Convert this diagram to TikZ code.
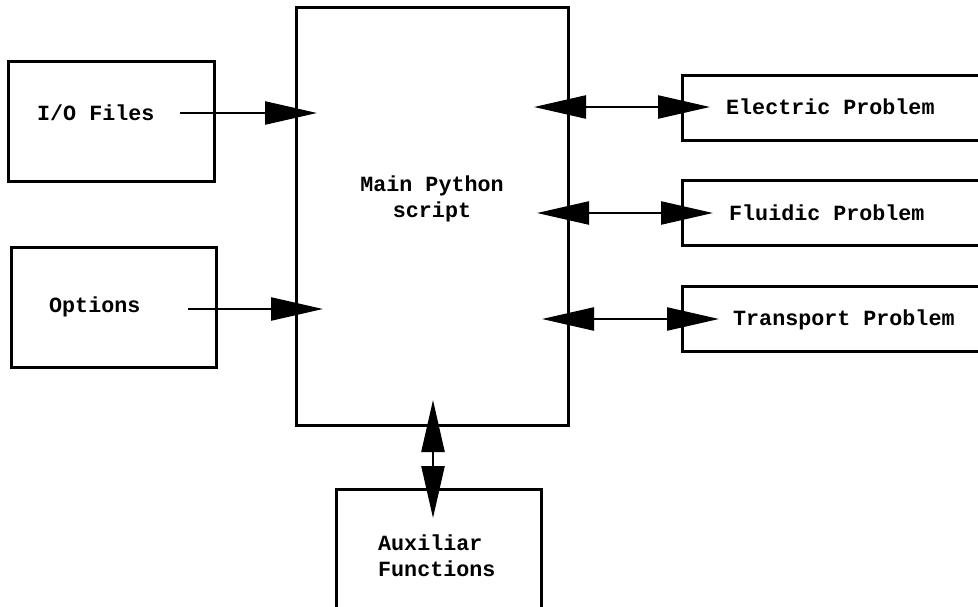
\documentclass[tikz,border=0pt]{standalone}
\usepackage{fontspec}
\setmonofont{Liberation Mono}
\usetikzlibrary{arrows.meta}
\begin{document}
\begin{tikzpicture}[x=1pt,y=-1pt,
  box/.style={draw=black, line width=3pt, rectangle, inner sep=0pt},
  lbl/.style={font=\ttfamily\bfseries\fontsize{21.7}{26}\selectfont, inner sep=0pt, text=black},
  arr/.style={line width=2.4pt, -{Triangle[length=52pt,width=23pt]}},
  darr/.style={line width=2.4pt, {Triangle[length=52pt,width=23pt]}-{Triangle[length=52pt,width=23pt]}}]
\useasboundingbox (0,0) rectangle (978,607);
\clip (0,0) rectangle (978,607);
% boxes
\node[box, minimum width=206pt, minimum height=120pt] (io) at (111,122) {};
\node[box, minimum width=205pt, minimum height=120pt] (opt) at (113.5,307) {};
\node[box, minimum width=272pt, minimum height=417pt] (main) at (432,216.5) {};
\node[box, minimum width=320pt, minimum height=65pt] (ele) at (842,108.5) {};
\node[box, minimum width=320pt, minimum height=64pt] (flu) at (842,213) {};
\node[box, minimum width=320pt, minimum height=65pt] (tra) at (842,318.5) {};
\node[box, minimum width=205pt, minimum height=160pt] (aux) at (438.5,569) {};
% labels
\node[lbl, anchor=west] (iot) at (37,113) {I/O Files};
\node[lbl, anchor=west] (optt) at (49,307) {Options};
\node[lbl, align=center] (maint) at (432,199) {Main Python\\script};
\node[lbl, anchor=west] (elet) at (726,107) {Electric Problem};
\node[lbl, anchor=west] (flut) at (729,213) {Fluidic Problem};
\node[lbl, anchor=west] (trat) at (733,320) {Transport Problem};
\node[lbl, align=left, anchor=west] (auxt) at (378,556) {Auxiliar\\Functions};
% arrow end points
\coordinate (ioS) at (180,113);
\coordinate (ioE) at (317,113);
\coordinate (opS) at (188,309);
\coordinate (opE) at (323,309);
\coordinate (elA) at (534,107);
\coordinate (elB) at (710,107);
\coordinate (flA) at (537,213);
\coordinate (flB) at (713,213);
\coordinate (trA) at (542,319);
\coordinate (trB) at (719,319);
\coordinate (auA) at (433,400);
\coordinate (auB) at (433,518);
% connectors
\draw[arr] (ioS) -- (ioE);
\draw[arr] (opS) -- (opE);
\draw[darr] (elA) -- (elB);
\draw[darr] (flA) -- (flB);
\draw[darr] (trA) -- (trB);
\draw[darr] (auA) -- (auB);
\end{tikzpicture}
\end{document}
